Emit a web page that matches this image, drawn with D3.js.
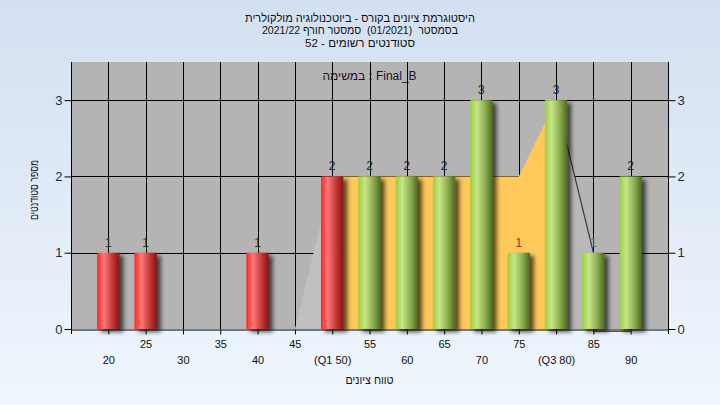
<!DOCTYPE html>
<html><head><meta charset="utf-8">
<script src="https://cdn.jsdelivr.net/npm/d3@7"></script>
<style>
html,body{margin:0;padding:0;background:#fff;}
svg{display:block;font-family:"Liberation Sans",Arial,sans-serif;}
</style></head>
<body>
<svg id="chart" width="720" height="405"></svg>
<script>
// ---- data ----
const categories = [20,25,30,35,40,45,50,55,60,65,70,75,80,85,90];
const tickLabels = ["20","25","30","35","40","45","(Q1 50)","55","60","65","70","75","(Q3 80)","85","90"];
const counts = [1,1,0,0,1,0,2,2,2,2,3,1,3,1,2];
const barGroups = ["low","low","low","low","low","low","low","high","high","high","high","high","high","high","high"];
const labelColors = ["#333","#333","#333","#333","#333","#333","#222","#222","#222","#222","#222","#c02010","#222","#4a6a8a","#222"];
const lowArea = [[45,0],[50,2]];
const iqrArea = [[50,2],[55,2],[60,2],[65,2],[70,2],[75,2],[80,3]];
const highArea = [[80,3],[85,1]];
const yTicks = [0,1,2,3];
const titleLines = ["היסטוגרמת ציונים בקורס - ביוטכנולוגיה מולקולרית","בסמסטר  (01/2021)  סמסטר חורף 2021/22","סטודנטים רשומים - 52"];
const subTitleParts = ["במשימה", " : ", "Final_B"];
const xTitle = "טווח ציונים";
const yTitle = "מספר סטודנטים";

// ---- layout ----
const W=720,H=405;
const L=71,R=668,T=62,B=329;
const titleWidths=[230,196,110];
const svg=d3.select("#chart");
const defs=svg.append("defs");

const bg=defs.append("linearGradient").attr("id","bg").attr("x1",0).attr("y1",0).attr("x2",0).attr("y2",1);
bg.append("stop").attr("offset","0%").attr("stop-color","#d3e0f1");
bg.append("stop").attr("offset","100%").attr("stop-color","#eff6fd");

function barGrad(id,c0,c1,c2,c3){
  const g=defs.append("linearGradient").attr("id",id).attr("x1",0).attr("y1",0).attr("x2",1).attr("y2",0);
  g.append("stop").attr("offset","0%").attr("stop-color",c0);
  g.append("stop").attr("offset","30%").attr("stop-color",c1);
  g.append("stop").attr("offset","70%").attr("stop-color",c2);
  g.append("stop").attr("offset","100%").attr("stop-color",c3);
}
barGrad("g-low","#ff2424","#ff7878","#c23434","#801616");
barGrad("g-high","#9ccf3c","#c7e58a","#86a84a","#4b6820");

const f=defs.append("filter").attr("id","shadow").attr("x","-20%").attr("y","-10%").attr("width","170%").attr("height","130%");
f.append("feDropShadow").attr("dx",4).attr("dy",3).attr("stdDeviation",2).attr("flood-color","#000").attr("flood-opacity",0.65);

svg.append("rect").attr("width",W).attr("height",H).attr("fill","url(#bg)");

const x=d3.scaleLinear().domain([15,95]).range([L,R]);
const y=d3.scaleLinear().domain([0,3.5]).range([B,T]);

// plot area
svg.append("rect").attr("x",L).attr("y",T).attr("width",R-L).attr("height",B-T).attr("fill","#b4b4b4");

// grid
const grid=svg.append("g").attr("stroke","#000").attr("stroke-width",1);
grid.selectAll(".v").data(categories).join("line")
  .attr("x1",d=>Math.round(x(d))+0.5).attr("x2",d=>Math.round(x(d))+0.5)
  .attr("y1",T).attr("y2",B);
grid.selectAll(".h").data(yTicks.filter(d=>d>0)).join("line")
  .attr("x1",L).attr("x2",R)
  .attr("y1",d=>Math.round(y(d))+0.5).attr("y2",d=>Math.round(y(d))+0.5);

// areas
const area=d3.area().x(d=>x(d[0])).y0(y(0)).y1(d=>y(d[1]));
svg.append("path").datum(lowArea).attr("d",area).attr("fill","#c0c0c0");
svg.append("path").datum(iqrArea).attr("d",area).attr("fill","#ffc95a");
svg.append("path").datum(highArea).attr("d",area).attr("fill","#b9b9b9");
svg.append("path").datum(highArea).attr("d",d3.line().x(d=>x(d[0])).y(d=>y(d[1])))
  .attr("fill","none").attr("stroke","#3a3a3a").attr("stroke-width",1.2);
svg.append("line").attr("x1",x(85)).attr("x2",x(90)).attr("y1",B+2.5).attr("y2",B+2.5)
  .attr("stroke","#555").attr("stroke-width",1);

// bars
const halfW=1.5;
const bars=svg.append("g");
bars.selectAll("rect").data(categories.map((c,i)=>({c,v:counts[i],g:barGroups[i]})).filter(d=>d.v>0))
  .join("rect")
  .attr("x",d=>x(d.c-halfW)).attr("width",d=>x(d.c+halfW)-x(d.c-halfW))
  .attr("y",d=>y(d.v)).attr("height",d=>y(0)-y(d.v))
  .attr("fill",d=>`url(#g-${d.g})`).attr("filter","url(#shadow)");

// value labels
svg.append("g").selectAll("text").data(categories.map((c,i)=>({c,v:counts[i],col:labelColors[i]})).filter(d=>d.v>0))
  .join("text")
  .attr("x",d=>x(d.c)).attr("y",d=>y(d.v)-6)
  .attr("text-anchor","middle").attr("font-size",12).attr("fill",d=>d.col)
  .text(d=>d.v);

// axes lines
svg.append("line").attr("x1",L+0.5).attr("x2",L+0.5).attr("y1",T).attr("y2",B+5).attr("stroke","#000");
svg.append("line").attr("x1",R+0.5).attr("x2",R+0.5).attr("y1",T).attr("y2",B+5).attr("stroke","#000");

// x axis
const xAxis=d3.axisBottom(x).tickValues(categories).tickSize(5).tickSizeOuter(0)
  .tickFormat((d,i)=>tickLabels[i]);
const gx=svg.append("g").attr("transform",`translate(0,${B+0.5})`).call(xAxis);
gx.select(".domain").attr("stroke","#000");
gx.selectAll(".tick line").attr("stroke","#000");
gx.selectAll(".tick text").attr("font-size",11).attr("fill","#111")
  .attr("font-family","Liberation Sans,Arial,sans-serif")
  .attr("y",(d,i)=>i%2===0?27:11);

// y axes
const yl=d3.axisLeft(y).tickValues(yTicks).tickSize(7).tickFormat(d3.format("d"));
const gyl=svg.append("g").attr("transform",`translate(${L+0.5},0)`).call(yl);
gyl.select(".domain").remove();
gyl.selectAll(".tick line").attr("stroke","#000");
gyl.selectAll(".tick text").attr("font-size",13).attr("fill","#1a2a3a").attr("font-family","Liberation Sans,Arial,sans-serif").attr("x",-9);
const yr=d3.axisRight(y).tickValues(yTicks).tickSize(7).tickFormat(d3.format("d"));
const gyr=svg.append("g").attr("transform",`translate(${R+0.5},0)`).call(yr);
gyr.select(".domain").remove();
gyr.selectAll(".tick line").attr("stroke","#000");
gyr.selectAll(".tick text").attr("font-size",13).attr("fill","#1a2a3a").attr("font-family","Liberation Sans,Arial,sans-serif").attr("x",9);

// titles
svg.append("g").selectAll("text").data(titleLines).join("text")
  .attr("x",360).attr("y",(d,i)=>21.5+i*12.5)
  .attr("text-anchor","middle").attr("direction","rtl").attr("font-size",11.5).attr("fill","#111")
  .style("white-space","pre")
  .attr("textLength",(d,i)=>titleWidths[i]).attr("lengthAdjust","spacingAndGlyphs")
  .text(d=>d);
// subtitle inside plot: three pieces laid out left to right
const sub=svg.append("text").attr("x",(L+R)/2).attr("y",80).attr("text-anchor","middle")
  .attr("font-size",12).attr("fill","#1a1030").style("white-space","pre");
sub.selectAll("tspan").data(subTitleParts).join("tspan")
  .style("unicode-bidi","isolate")
  .attr("font-weight",(d,i)=>i===1?"bold":null)
  .text(d=>d);
svg.append("text").attr("x",(L+R)/2).attr("y",384).attr("text-anchor","middle").attr("direction","rtl")
  .attr("font-size",12).attr("fill","#111")
  .attr("textLength",48).attr("lengthAdjust","spacingAndGlyphs").text(xTitle);
svg.append("text").attr("transform",`translate(38,190) rotate(-90)`).attr("text-anchor","middle").attr("direction","rtl")
  .attr("font-size",11).attr("fill","#111")
  .attr("textLength",60).attr("lengthAdjust","spacingAndGlyphs").text(yTitle);
</script>
</body></html>
